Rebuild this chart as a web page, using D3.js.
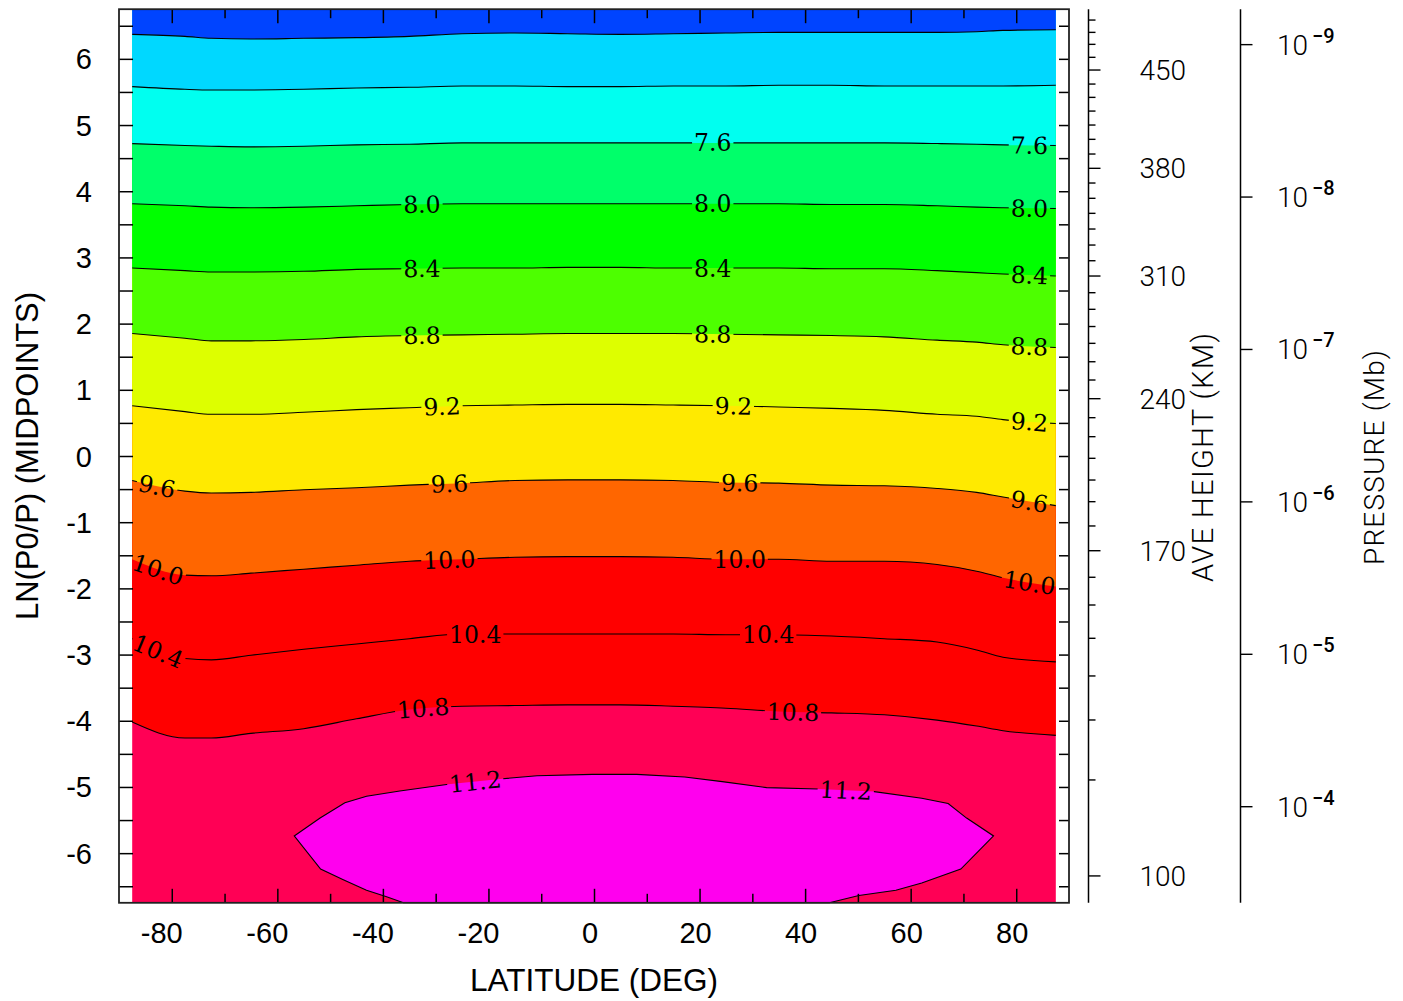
<!DOCTYPE html>
<html><head><meta charset="utf-8">
<script src="https://cdn.jsdelivr.net/npm/d3@7/dist/d3.min.js"></script>
<style>body{margin:0;background:#fff}</style>
</head><body><svg id="c" width="1403" height="1001" xmlns="http://www.w3.org/2000/svg"></svg>
<script>
// ---------------- data ----------------
const latitudes = [-87.5,-77.5,-72.5,-65,-55,-45,-35,-25,-15,-5,5,15,25,35,45,55,65,72.5,77.5,87.5];
const levels = [6.8,7.2,7.6,8.0,8.4,8.8,9.2,9.6,10.0,10.4,10.8,11.2];
// LN(P0/P) position of each open contour line at the latitudes above
const line68  = [6.37,6.34,6.31,6.30,6.31,6.32,6.34,6.38,6.39,6.38,6.37,6.38,6.39,6.40,6.40,6.40,6.40,6.41,6.43,6.44];
const line72  = [5.58,5.54,5.53,5.53,5.54,5.56,5.57,5.59,5.59,5.58,5.58,5.59,5.59,5.60,5.60,5.59,5.59,5.59,5.59,5.60];
const line76  = [4.72,4.69,4.68,4.67,4.68,4.70,4.71,4.73,4.73,4.73,4.73,4.73,4.73,4.73,4.73,4.73,4.72,4.71,4.70,4.69];
const line80  = [3.81,3.78,3.76,3.75,3.76,3.78,3.80,3.81,3.81,3.81,3.81,3.81,3.81,3.81,3.80,3.80,3.78,3.76,3.75,3.74];
const line84  = [2.84,2.80,2.78,2.78,2.79,2.82,2.83,2.84,2.84,2.85,2.85,2.84,2.84,2.84,2.83,2.83,2.80,2.77,2.75,2.72];
const line88  = [1.85,1.78,1.74,1.74,1.76,1.80,1.82,1.83,1.84,1.85,1.85,1.85,1.84,1.83,1.82,1.80,1.75,1.72,1.68,1.64];
const line92  = [0.76,0.67,0.63,0.63,0.66,0.70,0.73,0.76,0.77,0.78,0.78,0.77,0.76,0.74,0.72,0.69,0.63,0.60,0.55,0.49];
const line96  = [-0.37,-0.53,-0.56,-0.55,-0.51,-0.48,-0.44,-0.41,-0.37,-0.36,-0.36,-0.37,-0.40,-0.41,-0.44,-0.45,-0.49,-0.55,-0.62,-0.75];
const line100 = [-1.56,-1.80,-1.81,-1.77,-1.71,-1.65,-1.59,-1.56,-1.53,-1.52,-1.52,-1.53,-1.56,-1.56,-1.59,-1.59,-1.64,-1.74,-1.84,-1.97];
const line104 = [-2.76,-3.06,-3.08,-3.01,-2.92,-2.84,-2.76,-2.69,-2.69,-2.69,-2.69,-2.69,-2.70,-2.70,-2.72,-2.76,-2.81,-2.93,-3.04,-3.11];
const line108 = [-4.02,-4.26,-4.26,-4.19,-4.12,-3.97,-3.83,-3.78,-3.77,-3.76,-3.76,-3.78,-3.81,-3.86,-3.88,-3.91,-3.99,-4.08,-4.15,-4.22];
// closed 11.2 contour: [latitude, LN(P0/P)]
const loop112Upper = [[-56.8,-5.74],[-51.9,-5.47],[-47.2,-5.24],[-43.1,-5.14],[-36.8,-5.06],[-27.6,-4.96],[-17.8,-4.88],[-10.8,-4.83],[-0.3,-4.81],[8.1,-4.81],[17.2,-4.85],[24.3,-4.92],[32.7,-5.01],[42.5,-5.03],[53.1,-5.07],[62.1,-5.17],[67.1,-5.25],[70.6,-5.47],[75.7,-5.74]];
const loop112Lower = [[69.5,-6.24],[62.1,-6.45],[57.2,-6.56],[50.2,-6.64],[44.6,-6.75],[-36.1,-6.75],[-39.3,-6.66],[-43.1,-6.56],[-47.5,-6.40],[-51.8,-6.24]];
const bandColors = ['#0044ff','#00d8ff','#00fff0','#00ff6a','#00ff00','#4dff00','#ddff00','#ffea00','#ff6600','#ff0000','#ff0000','#ff0055','#ff00ee'];
// latitudes where each contour carries its label
const labelLats = [[],[],[22.5,82.5],[-32.6,22.5,82.5],[-32.6,22.5,82.5],[-32.6,22.5,82.5],[-28.8,26.4,82.5],[-82.8,-27.4,27.6,82.5],[-82.6,-27.4,27.6,82.5],[-82.6,-22.5,33.0],[-32.4,37.7],[-22.5,47.7]];
const latTickLabels = [-80,-60,-40,-20,0,20,40,60,80];
const latMinorTicks = [-70,-50,-30,-10,10,30,50,70];
const lnpTickLabels = [-6,-5,-4,-3,-2,-1,0,1,2,3,4,5,6];
const lnpAllTicks = [-6.5,-6,-5.5,-5,-4.5,-4,-3.5,-3,-2.5,-2,-1.5,-1,-0.5,0,0.5,1,1.5,2,2.5,3,3.5,4,4.5,5,5.5,6,6.5];
const heightKm = [100,110,120,130,140,150,160,170,180,190,200,210,220,230,240,250,260,270,280,290,300,310,320,330,340,350,360,370,380,390,400,410,420,430,440,450,460,470,480,490];
const heightLnp = [-6.344,-4.894,-3.988,-3.323,-2.754,-2.251,-1.832,-1.431,-1.057,-0.690,-0.363,-0.035,0.292,0.579,0.866,1.148,1.424,1.702,1.956,2.216,2.467,2.719,2.950,3.187,3.429,3.666,3.893,4.124,4.346,4.562,4.784,5.000,5.211,5.418,5.619,5.831,6.023,6.219,6.400,6.586];
const heightLabelKm = [100,170,240,310,380,450];
const pressureExponents = [-9,-8,-7,-6,-5,-4];
const P0_MB = 5e-7; // reference pressure (mb)

// ---------------- chart ----------------
const svg = d3.select('#c');
const x = d3.scaleLinear().domain([-90,90]).range([119,1069]);
const y = d3.scaleLinear().domain([-6.75,6.75]).range([902.8,9.2]);
const pScale = d3.scaleLog().domain([P0_MB*Math.exp(-6.75), P0_MB*Math.exp(6.75)]).range([9.2,902.8]);
const sans = '"Liberation Sans", Arial, sans-serif';
const thin = 'Roboto, "Open Sans", "DejaVu Sans", sans-serif';

const contourLines = [line68,line72,line76,line80,line84,line88,line92,line96,line100,line104,line108];
const lineGen = d3.line().x(d=>x(d[0])).y(d=>y(d[1])).curve(d3.curveMonotoneX);
const areaGen = d3.area().x(d=>x(d[0])).y0(y(6.75)).y1(d=>y(d[1])).curve(d3.curveMonotoneX);
const polyGen = d3.line().x(d=>x(d[0])).y(d=>y(d[1]));

const fills = svg.append('g');
fills.append('rect').attr('x',x(-87.5)).attr('y',y(6.75))
  .attr('width',x(87.5)-x(-87.5)).attr('height',y(-6.75)-y(6.75)).attr('fill',bandColors[11]);
for(let i=contourLines.length-1;i>=0;i--){
  const pts = latitudes.map((la,j)=>[la,contourLines[i][j]]);
  fills.append('path').attr('d',areaGen(pts)).attr('fill',bandColors[i]);
}
const loopPts = loop112Upper.concat(loop112Lower);
fills.append('path').attr('d',polyGen(loopPts)+'Z').attr('fill',bandColors[12]);

// mask for label gaps
const defs = svg.append('defs');
const mask = defs.append('mask').attr('id','lblmask').attr('maskUnits','userSpaceOnUse')
  .attr('x',0).attr('y',0).attr('width',1403).attr('height',1001);
mask.append('rect').attr('width',1403).attr('height',1001).attr('fill','white');

const lines = svg.append('g').attr('mask','url(#lblmask)').attr('fill','none').attr('stroke','#000').attr('stroke-width',1.1);
const linePaths = contourLines.map((arr)=>{
  const pts = latitudes.map((la,j)=>[la,arr[j]]);
  return lines.append('path').attr('d',lineGen(pts)).node();
});
lines.append('path').attr('d',polyGen(loopPts)+'Z');
const upperHelper = svg.append('path').attr('d',polyGen(loop112Upper)).attr('fill','none').attr('stroke','none').node();
linePaths.push(upperHelper);

function pointAtX(path, px){
  const L = path.getTotalLength();
  let lo=0, hi=L;
  for(let k=0;k<40;k++){const m=(lo+hi)/2; if(path.getPointAtLength(m).x<px) lo=m; else hi=m;}
  return path.getPointAtLength((lo+hi)/2);
}
const labelsG = svg.append('g');
levels.forEach((lev,i)=>{
  labelLats[i].forEach(la=>{
    const px = x(la);
    const p = pointAtX(linePaths[i], px);
    const a = pointAtX(linePaths[i], px-6), b = pointAtX(linePaths[i], px+6);
    const ang = Math.atan2(b.y-a.y, b.x-a.x)*180/Math.PI;
    const t = labelsG.append('text').attr('transform',`translate(${p.x},${p.y}) rotate(${ang})`)
      .attr('text-anchor','middle').attr('y',8.5)
      .attr('font-family','"DejaVu Serif", serif').attr('font-size',23.5).attr('fill','#000')
      .text(d3.format('.1f')(lev));
    const w = t.node().getComputedTextLength();
    mask.append('rect').attr('x',-w/2-2).attr('y',-9).attr('width',w+4).attr('height',18)
      .attr('transform',`translate(${p.x},${p.y}) rotate(${ang})`).attr('fill','black');
  });
});

// frame ticks
const tickStyle = g=>{g.select('.domain').remove(); g.selectAll('line').attr('stroke','#000').attr('stroke-width',1.5);};
svg.append('g').attr('transform',`translate(0,${y(-6.75)})`).call(d3.axisBottom(x).tickValues(latTickLabels).tickSize(-14).tickFormat('')).call(tickStyle);
svg.append('g').attr('transform',`translate(0,${y(-6.75)})`).call(d3.axisBottom(x).tickValues(latMinorTicks).tickSize(-9).tickFormat('')).call(tickStyle);
svg.append('g').attr('transform',`translate(0,${y(6.75)})`).call(d3.axisTop(x).tickValues(latTickLabels).tickSize(-14).tickFormat('')).call(tickStyle);
svg.append('g').attr('transform',`translate(0,${y(6.75)})`).call(d3.axisTop(x).tickValues(latMinorTicks).tickSize(-9).tickFormat('')).call(tickStyle);
svg.append('g').attr('transform',`translate(${x(-90)},0)`).call(d3.axisLeft(y).tickValues(lnpAllTicks).tickSize(-14).tickFormat('')).call(tickStyle);
svg.append('g').attr('transform',`translate(${x(90)},0)`).call(d3.axisRight(y).tickValues(lnpAllTicks).tickSize(-10).tickFormat('')).call(tickStyle);

// frame
svg.append('rect').attr('x',x(-90)).attr('y',y(6.75)).attr('width',x(90)-x(-90)).attr('height',y(-6.75)-y(6.75))
  .attr('fill','none').attr('stroke','#222').attr('stroke-width',1.8);

// tick labels
svg.append('g').selectAll('text').data(latTickLabels).join('text')
  .attr('x',d=>x(d)-(d<0?10:4)).attr('y',943).attr('text-anchor','middle')
  .attr('font-family',sans).attr('font-size',29).attr('fill','#000').text(d=>d);
svg.append('g').selectAll('text').data(lnpTickLabels).join('text')
  .attr('x',92).attr('y',d=>y(d)+10.5).attr('text-anchor','end')
  .attr('font-family',sans).attr('font-size',29).attr('fill','#000').text(d=>d);
svg.append('text').attr('x',594).attr('y',991).attr('text-anchor','middle')
  .attr('font-family',sans).attr('font-size',31).attr('fill','#000').attr('textLength',248).attr('lengthAdjust','spacingAndGlyphs')
  .text('LATITUDE (DEG)');
svg.append('text').attr('transform',`translate(38,456) rotate(-90)`).attr('text-anchor','middle')
  .attr('font-family',sans).attr('font-size',31).attr('fill','#000').attr('textLength',328).attr('lengthAdjust','spacingAndGlyphs')
  .text('LN(P0/P) (MIDPOINTS)');

// height axis
const hx = 1088.5;
svg.append('line').attr('x1',hx).attr('x2',hx).attr('y1',y(6.75)).attr('y2',y(-6.75)).attr('stroke','#000').attr('stroke-width',1.5);
svg.append('g').selectAll('line').data(heightKm).join('line')
  .attr('x1',hx).attr('x2',(d)=>hx+(heightLabelKm.includes(d)?12:7))
  .attr('y1',(d,i)=>y(heightLnp[i])).attr('y2',(d,i)=>y(heightLnp[i])).attr('stroke','#000').attr('stroke-width',1.4);
svg.append('g').selectAll('text').data(heightLabelKm).join('text')
  .attr('x',1186).attr('y',d=>y(heightLnp[heightKm.indexOf(d)])+10).attr('text-anchor','end')
  .attr('font-family',thin).attr('font-weight',300).attr('font-size',28).attr('fill','#000').text(d=>d);
svg.append('text').attr('transform',`translate(1213,457.5) rotate(-90)`).attr('text-anchor','middle')
  .attr('font-family',thin).attr('font-weight',300).attr('font-size',29).attr('fill','#000')
  .attr('textLength',249).attr('lengthAdjust','spacing').text('AVE HEIGHT (KM)');

// pressure axis
const px0 = 1240.5;
svg.append('line').attr('x1',px0).attr('x2',px0).attr('y1',y(6.75)).attr('y2',y(-6.75)).attr('stroke','#000').attr('stroke-width',1.5);
svg.append('g').selectAll('line').data(pressureExponents).join('line')
  .attr('x1',px0).attr('x2',px0+12).attr('y1',d=>pScale(Math.pow(10,d))).attr('y2',d=>pScale(Math.pow(10,d)))
  .attr('stroke','#000').attr('stroke-width',1.4);
const pl = svg.append('g').selectAll('text').data(pressureExponents).join('text')
  .attr('x',1277).attr('y',d=>pScale(Math.pow(10,d))+10)
  .attr('font-family',thin).attr('font-weight',300).attr('font-size',28).attr('fill','#000');
pl.append('tspan').text('10');
pl.append('tspan').attr('dx',4).attr('dy',-12).attr('font-size',20).attr('font-weight',500).text(d=>'\u2212'+Math.abs(d));
svg.append('text').attr('transform',`translate(1384,457.5) rotate(-90)`).attr('text-anchor','middle')
  .attr('font-family',thin).attr('font-weight',300).attr('font-size',28).attr('fill','#000')
  .attr('textLength',215).attr('lengthAdjust','spacing').text('PRESSURE (Mb)');
</script>
</body></html>
